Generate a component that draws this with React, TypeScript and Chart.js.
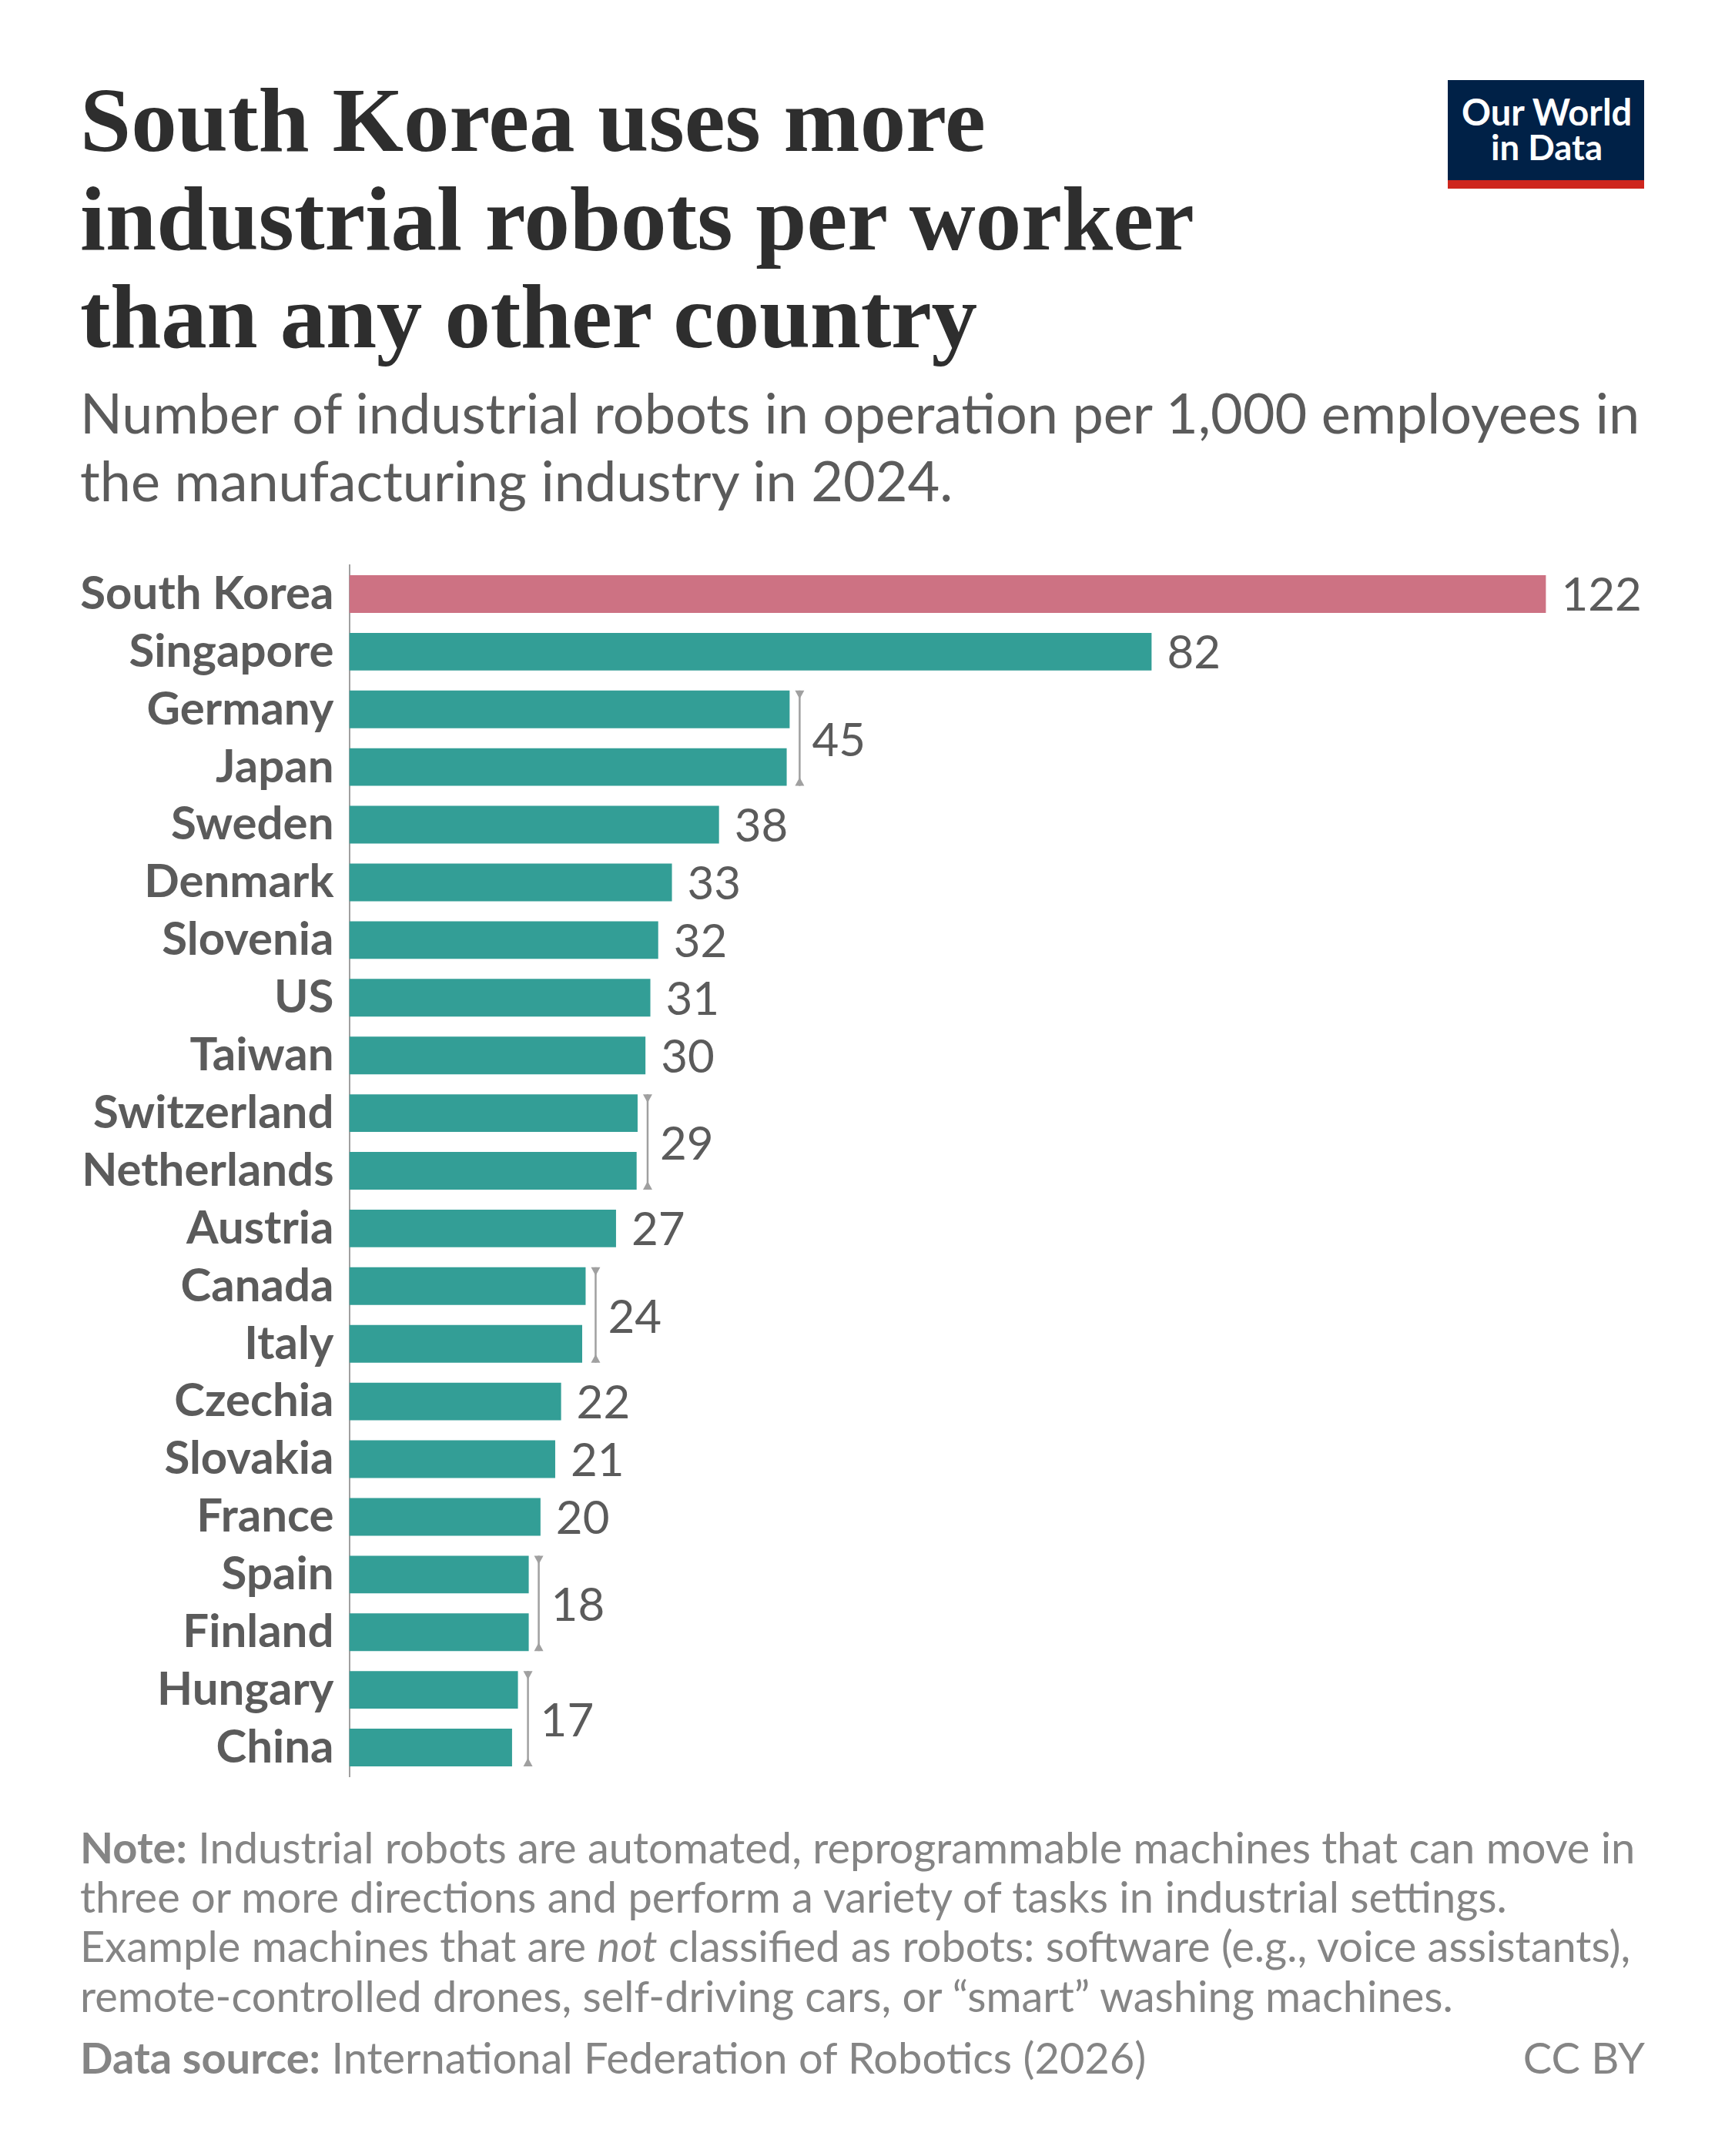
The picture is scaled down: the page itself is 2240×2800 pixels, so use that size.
import { useEffect, useRef } from 'react';
import { Chart, registerables } from 'chart.js';

Chart.register(...registerables);

const countries = [
  'South Korea', 'Singapore', 'Germany', 'Japan', 'Sweden', 'Denmark', 'Slovenia',
  'US', 'Taiwan', 'Switzerland', 'Netherlands', 'Austria', 'Canada', 'Italy',
  'Czechia', 'Slovakia', 'France', 'Spain', 'Finland', 'Hungary', 'China',
];
const robots = [
  122, 81.8, 44.9, 44.6, 37.7, 32.9, 31.5, 30.7, 30.2, 29.4, 29.3, 27.2, 24.1, 23.75,
  21.6, 21, 19.5, 18.3, 18.3, 17.2, 16.6,
];
const valueLabels = [
  '122', '82', '45', '45', '38', '33', '32', '31', '30', '29', '29', '27', '24', '24',
  '22', '21', '20', '18', '18', '17', '17',
];
// pairs of rows that share one bracketed label
const bracketRows = [[2, 3], [9, 10], [12, 13], [17, 18], [19, 20]];

const titleLines = ['South Korea uses more', 'industrial robots per worker', 'than any other country'];
const subtitleLines = [
  'Number of industrial robots in operation per 1,000 employees in',
  'the manufacturing industry in 2024.',
];

const TEAL = '#339e96';
const PINK = '#cd7283';
const GREY = '#5b5b5b';
const BRACKET = '#a0a0a0';
const NOTE = '#858585';
const LATO = 'Lato, sans-serif';
const SERIF = "'Liberation Serif', serif";
const LABEL_SIZE = 60;

const valueLabelPlugin = {
  id: 'valueLabels',
  afterDatasetsDraw(chart: Chart) {
    const { ctx, scales } = chart;
    const bars = chart.getDatasetMeta(0).data as any[];
    ctx.save();
    ctx.font = `400 ${LABEL_SIZE}px ${LATO}`;
    ctx.fillStyle = GREY;
    ctx.textAlign = 'left';
    ctx.textBaseline = 'alphabetic';
    const inBracket = new Set(bracketRows.flat());
    robots.forEach((v, i) => {
      if (inBracket.has(i)) return;
      ctx.fillText(valueLabels[i], scales.x.getPixelForValue(v) + 20, bars[i].y + 22);
    });
    bracketRows.forEach(([a, b]) => {
      const x = scales.x.getPixelForValue(Math.max(robots[a], robots[b])) + 13;
      const top = bars[a].y - bars[a].height / 2;
      const bottom = bars[b].y + bars[b].height / 2;
      ctx.strokeStyle = BRACKET;
      ctx.fillStyle = BRACKET;
      ctx.lineWidth = 2.5;
      ctx.beginPath();
      ctx.moveTo(x, top);
      ctx.lineTo(x, bottom);
      ctx.stroke();
      ctx.beginPath();
      ctx.moveTo(x - 6, top);
      ctx.lineTo(x + 6, top);
      ctx.lineTo(x, top + 11);
      ctx.closePath();
      ctx.moveTo(x - 6, bottom);
      ctx.lineTo(x + 6, bottom);
      ctx.lineTo(x, bottom - 11);
      ctx.closePath();
      ctx.fill();
      ctx.fillStyle = GREY;
      ctx.fillText(valueLabels[a], x + 16, (top + bottom) / 2 + 23);
    });
    ctx.restore();
  },
};

// one line of text placed by its baseline; a zero line-height centres the
// font's content area on the box edge, hence the per-font drop
function Line({ x, baseline, size, color, font = LATO, weight = 400, right, spacing, children }: any) {
  const drop = font === SERIF ? 0.3375 : 0.387;
  return (
    <div
      style={{
        position: 'absolute',
        top: baseline - drop * size,
        lineHeight: 0,
        ...(right !== undefined ? { right } : { left: x }),
        whiteSpace: 'nowrap',
        fontFamily: font,
        fontSize: size,
        fontWeight: weight,
        letterSpacing: spacing,
        color,
      }}
    >
      {children}
    </div>
  );
}

export default function App() {
  const canvasRef = useRef<HTMLCanvasElement>(null);

  useEffect(() => {
    if (!canvasRef.current) return;
    const chart = new Chart(canvasRef.current, {
      type: 'bar',
      data: {
        labels: countries,
        datasets: [
          {
            data: robots,
            backgroundColor: countries.map((_, i) => (i === 0 ? PINK : TEAL)),
            categoryPercentage: 1,
            barPercentage: 0.653,
          },
        ],
      },
      options: {
        indexAxis: 'y',
        responsive: false,
        animation: false,
        devicePixelRatio: 1,
        layout: { padding: { top: 734, bottom: 493, right: 130.7, left: 0 } },
        plugins: { legend: { display: false }, tooltip: { enabled: false } },
        scales: {
          x: { display: false, min: 0, max: 130 },
          y: {
            afterFit: (scale) => {
              scale.width = 453.5;
            },
            grid: { display: false, drawTicks: false },
            border: { color: BRACKET, width: 2 },
            ticks: {
              autoSkip: false,
              padding: 20,
              color: GREY,
              font: { family: LATO, size: LABEL_SIZE, weight: 'bold' },
            },
          },
        },
      },
      plugins: [valueLabelPlugin],
    });
    return () => chart.destroy();
  }, []);

  const titleBaselines = [196, 324, 451.5];
  const titleSpacing = [0, 0, -0.3];
  const subtitleBaselines = [563, 650.5];

  return (
    <div style={{ position: 'absolute', left: 0, top: 0, width: 2240, height: 2800, background: '#fff', overflow: 'hidden' }}>
      <canvas ref={canvasRef} width={2240} height={2800} style={{ position: 'absolute', left: 0, top: 0 }} />

      {titleLines.map((line, i) => (
        <Line key={line} x={104} baseline={titleBaselines[i]} size={119} color="#2e2e2e" font={SERIF} weight={700} spacing={titleSpacing[i]}>
          {line}
        </Line>
      ))}
      {subtitleLines.map((line, i) => (
        <Line key={line} x={104} baseline={subtitleBaselines[i]} size={72} color={GREY}>
          {line}
        </Line>
      ))}

      <div style={{ position: 'absolute', left: 1880, top: 104, width: 255, height: 141, background: '#002147' }}>
        <div style={{ position: 'absolute', left: 0, right: 0, bottom: 0, height: 11, background: '#ce261e' }} />
      </div>
      <Line x={1898} baseline={163} size={47} color="#fff" weight={700}>Our World</Line>
      <Line x={1936} baseline={209} size={45.5} color="#fff" weight={700}>in Data</Line>

      <Line x={104} baseline={2421} size={56} color={NOTE}>
        <b>Note:</b> Industrial robots are automated, reprogrammable machines that can move in
      </Line>
      <Line x={104} baseline={2485} size={56} color={NOTE}>
        three or more directions and perform a variety of tasks in industrial settings.
      </Line>
      <Line x={104} baseline={2549} size={56} color={NOTE}>
        Example machines that are <i>not</i> classified as robots: software (e.g., voice assistants),
      </Line>
      <Line x={104} baseline={2614} size={56} color={NOTE}>
        remote-controlled drones, self-driving cars, or “smart” washing machines.
      </Line>
      <Line x={104} baseline={2694} size={56} color={NOTE}>
        <b>Data source:</b> International Federation of Robotics (2026)
      </Line>
      <Line right={104} baseline={2694} size={56} color={NOTE}>CC BY</Line>
    </div>
  );
}
